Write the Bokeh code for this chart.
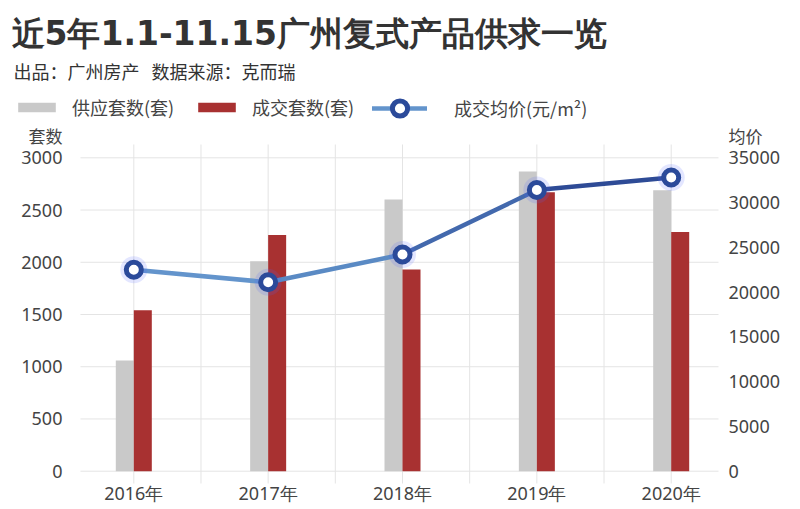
from bokeh.plotting import figure
from bokeh.models import Range1d, Label, Legend, LegendItem
from bokeh.core.properties import value
from bokeh.embed import file_html
from bokeh.resources import INLINE

# ---------------- data ----------------
years = ["2016年", "2017年", "2018年", "2019年", "2020年"]
supply = [1060, 2010, 2600, 2870, 2690]        # 供应套数(套)
deals = [1540, 2260, 1930, 2670, 2290]         # 成交套数(套)
price = [22500, 21100, 24200, 31400, 32800]    # 成交均价(元/㎡)
left_ticks = [0, 500, 1000, 1500, 2000, 2500, 3000]
right_ticks = [0, 5000, 10000, 15000, 20000, 25000, 30000, 35000]
seg_colors = ["#6394cc", "#5a8ac4", "#4369ad", "#2e4b96"]

W, H = 800, 509

# plot-area limits (data units of the x scale / left y scale)
PX0, PX1 = -0.397, 4.352
PY0, PY1 = -117.7, 3127.3
RATIO = right_ticks[-1] / left_ticks[-1]

xs = list(range(len(years)))

p = figure(width=W, height=H, output_backend="svg", toolbar_location=None,
           x_range=Range1d(-0.9922, 4.9624), y_range=Range1d(-366.6, 4505.7),
           min_border=0, min_border_left=0, min_border_right=0,
           min_border_top=0, min_border_bottom=0,
           x_axis_type=None, y_axis_type=None)
p.outline_line_color = None
p.background_fill_color = "white"
p.border_fill_color = "white"
p.xgrid.visible = False
p.ygrid.visible = False
p.extra_y_ranges = {"price": Range1d(-366.6 * RATIO, 4505.7 * RATIO)}

NUM_FONT = value("Noto Sans")
CJK = "Noto Sans CJK SC"
TXT = "#444444"
GRID = "#e4e4e4"

# grid lines
p.segment(x0=[PX0] * len(left_ticks), x1=[PX1] * len(left_ticks),
          y0=left_ticks, y1=left_ticks, line_color=GRID, line_width=1, level="underlay")
vx = [i * 0.5 for i in range(2 * len(years) - 1)]
p.segment(x0=vx, x1=vx, y0=[PY0] * len(vx), y1=[PY1] * len(vx),
          line_color=GRID, line_width=1, level="underlay")

# axis tick labels
p.text(x=[PX0] * len(left_ticks), y=left_ticks, text=[str(t) for t in left_ticks],
       x_offset=-18, text_align="right", text_baseline="middle",
       text_font=NUM_FONT, text_font_size="18px", text_color=TXT)
p.text(x=[PX1] * len(right_ticks), y=right_ticks, text=[str(t) for t in right_ticks],
       x_offset=10, text_align="left", text_baseline="middle", y_range_name="price",
       text_font=NUM_FONT, text_font_size="18px", text_color=TXT)
p.text(x=xs, y=[0] * len(xs), text=years, y_offset=22,
       text_align="center", text_baseline="middle",
       text_font=NUM_FONT, text_font_size="18px", text_color=TXT)

# bars
bw = 0.134
r_sup = p.vbar(x=[x - bw / 2 for x in xs], top=supply, width=bw, bottom=0,
               fill_color="#c9c9c9", line_color=None)
r_deal = p.vbar(x=[x + bw / 2 for x in xs], top=deals, width=bw, bottom=0,
                fill_color="#a83131", line_color=None)

# line (segment colours fade from light to dark blue)
r_line = p.segment(x0=xs[:-1], y0=price[:-1], x1=xs[1:], y1=price[1:],
                   line_color=seg_colors, line_width=4.5, line_cap="round",
                   y_range_name="price")
r_glow = p.scatter(x=xs, y=price, size=27, marker="circle", fill_color="#4f63ff",
                   fill_alpha=0.16, line_color=None, y_range_name="price")
r_pts = p.scatter(x=xs, y=price, size=15, marker="circle", fill_color="white",
                  line_color="#2b4a9a", line_width=5, y_range_name="price")


# legends (one per item so that each can sit where the reference has it)
def add_legend(label, renderers, left, bottom, gw, gh, standoff):
    lg = Legend(items=[LegendItem(label=label, renderers=renderers)],
                orientation="horizontal", location=(left, H - bottom))
    lg.glyph_width = gw
    lg.glyph_height = gh
    lg.label_height = 20
    lg.label_standoff = standoff
    lg.padding = 0
    lg.margin = 0
    lg.border_line_color = None
    lg.background_fill_alpha = 0
    lg.label_text_font = CJK
    lg.label_text_font_size = "18px"
    lg.label_text_color = TXT
    p.add_layout(lg, "center")


add_legend("供应套数(套)", [r_sup], 13, 120, 47, 12, 12)
add_legend("成交套数(套)", [r_deal], 193, 120, 47, 12, 12)
add_legend("成交均价(元/m²)", [r_line, r_glow, r_pts], 372, 126.5, 55, 38, 27)


def lab(text, cx, cy, size, font=CJK, style="normal", align="left", color=TXT):
    p.add_layout(Label(x=cx, y=H - cy, x_units="screen", y_units="screen",
                       text=text, text_font=font, text_font_size=size,
                       text_font_style=style, text_align=align,
                       text_baseline="middle", text_color=color))


lab("近5年1.1-11.15广州复式产品供求一览", 11, 32.5, "33px", font="DejaVu Sans",
    style="bold", color="#333333")
lab("出品：广州房产\u00a0\u00a0\u00a0数据来源：克而瑞", 13, 70.5, "18px", color="#333333")

# axis names, placed just above the top tick of each scale
p.add_layout(Label(x=PX0, y=left_ticks[-1], text="套数", x_offset=-18, y_offset=22,
                   text_align="right", text_baseline="middle", text_font=CJK,
                   text_font_size="17px", text_color=TXT))
p.add_layout(Label(x=PX1, y=right_ticks[-1], y_range_name="price", text="均价",
                   x_offset=10, y_offset=22, text_align="left", text_baseline="middle",
                   text_font=CJK, text_font_size="17px", text_color=TXT))

open("out.html", "w").write(file_html(p, INLINE))
